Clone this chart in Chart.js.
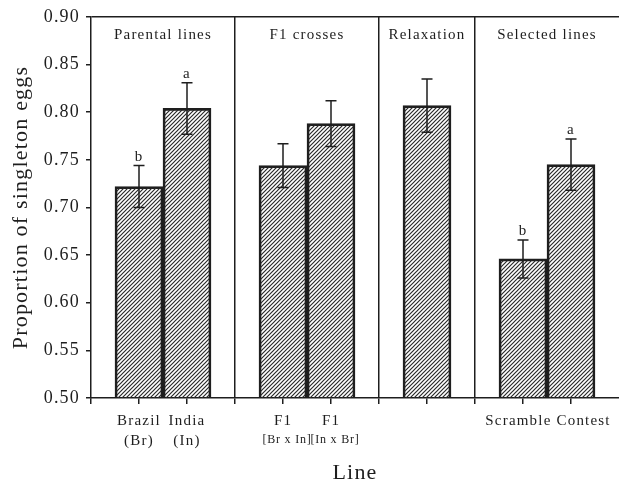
<!DOCTYPE html>
<html><head><meta charset="utf-8">
<script src="https://cdn.jsdelivr.net/npm/chart.js@4"></script>
<style>html,body{margin:0;padding:0;background:#fff}#wrap{width:619px;height:484px}</style>
</head><body><div id="wrap"><canvas id="c" width="619" height="484"></canvas></div>
<script>
// ---- data ----
const categories = ['', ['Brazil','(Br)'], ['India','(In)'], '', 'F1', 'F1', '', '', '', 'Scramble', 'Contest', ''];
const subLabels  = [null, null, null, null, '[Br x In]', '[In x Br]', null, null, null, null, null, null];
const values     = [null, 0.722, 0.804, null, 0.744, 0.788, null, 0.807, null, 0.646, 0.745, null];
const errors     = [null, 0.022, 0.027, null, 0.023, 0.024, null, 0.028, null, 0.020, 0.027, null];
const letters    = [null, 'b', 'a', null, null, null, null, null, null, 'b', 'a', null];
const groupNames = ['Parental lines', 'F1 crosses', 'Relaxation', 'Selected lines'];
const groupBounds = [[0,3],[3,6],[6,8],[8,11]];
const dividers   = [3, 6, 8];
const jointPair  = [9, 10];   // labels written as one line under this pair
const yMin = 0.50, yMax = 0.90, yStep = 0.05;

const FONT = '"Liberation Serif", "Times New Roman", serif';
const INK = '#1e1e1e';

const canvas = document.getElementById('c');
const mainCtx = canvas.getContext('2d');
function hatch(){
  const p = document.createElement('canvas'); p.width = 4; p.height = 4;
  const g = p.getContext('2d');
  g.strokeStyle = '#2a2a2a'; g.lineWidth = 1.2;
  g.beginPath();
  g.moveTo(0,4); g.lineTo(4,0);
  g.moveTo(-1,1); g.lineTo(1,-1);
  g.moveTo(3,5); g.lineTo(5,3);
  g.stroke();
  return mainCtx.createPattern(p, 'repeat');
}

const spacingPlugin = {
  id: 'spacing',
  beforeDraw(chart){ chart.ctx.letterSpacing = '1.2px'; }
};

const annotPlugin = {
  id: 'annot',
  afterDatasetsDraw(chart){
    const ctx = chart.ctx, ys = chart.scales.y, xs = chart.scales.x;
    ctx.save();
    ctx.strokeStyle = INK; ctx.fillStyle = INK; ctx.lineWidth = 1.5;
    values.forEach((v, i) => {
      if (v == null) return;
      const x = xs.getPixelForValue(i);
      const t = ys.getPixelForValue(v + errors[i]);
      const b = ys.getPixelForValue(v - errors[i]);
      ctx.beginPath();
      ctx.moveTo(x, t); ctx.lineTo(x, b);
      ctx.moveTo(x - 5.5, t); ctx.lineTo(x + 5.5, t);
      ctx.moveTo(x - 5.5, b); ctx.lineTo(x + 5.5, b);
      ctx.stroke();
      if (letters[i]) {
        ctx.font = '15px ' + FONT;
        ctx.textAlign = 'center'; ctx.textBaseline = 'alphabetic';
        ctx.fillText(letters[i], x, t - 5);
      }
    });
    ctx.font = '15px ' + FONT;
    ctx.textAlign = 'center'; ctx.textBaseline = 'alphabetic';
    groupNames.forEach((n, k) => {
      const a = xs.getPixelForValue(groupBounds[k][0]);
      const b = xs.getPixelForValue(groupBounds[k][1]);
      ctx.fillText(n, (a + b) / 2, chart.chartArea.top + 22);
    });
    // joint tick label (one line across the pair)
    const jx = (xs.getPixelForValue(jointPair[0]) + xs.getPixelForValue(jointPair[1])) / 2;
    ctx.fillText(categories[jointPair[0]] + ' ' + categories[jointPair[1]], jx + 1, chart.chartArea.bottom + 26.5);
    ctx.font = '12px ' + FONT;
    ctx.letterSpacing = '0.8px';
    subLabels.forEach((s, i) => {
      if (!s) return;
      ctx.fillText(s, xs.getPixelForValue(i) + 4, chart.chartArea.bottom + 45);
    });
    ctx.restore();
  }
};

new Chart(canvas, {
  type: 'bar',
  data: {
    labels: categories,
    datasets: [{
      data: values,
      backgroundColor: hatch(),
      borderColor: INK,
      borderWidth: 2,
      borderSkipped: false,
      categoryPercentage: 1,
      barPercentage: 1
    }]
  },
  options: {
    responsive: false,
    animation: false,
    devicePixelRatio: 1,
    layout: { padding: { top: 17, right: 0, left: 0, bottom: 0 } },
    plugins: { legend: { display: false }, tooltip: { enabled: false } },
    scales: {
      x: {
        type: 'category',
        offset: false,
        grid: {
          offset: false,
          color: c => dividers.includes(c.index) ? INK : 'rgba(0,0,0,0)',
          tickColor: c => (c.index >= 0 && c.index <= 10) ? INK : 'rgba(0,0,0,0)',
          tickLength: 6,
          lineWidth: 1.5
        },
        border: { color: INK, width: 1.5 },
        ticks: {
          autoSkip: false, maxRotation: 0, minRotation: 0,
          color: INK, padding: 7,
          font: { family: FONT, size: 15, lineHeight: 1.33 },
          callback: function(v, i){ return jointPair.includes(i) ? '' : this.getLabelForValue(v); }
        },
        title: {
          display: true, text: 'Line', color: INK,
          font: { family: FONT, size: 22, lineHeight: 1 },
          padding: { top: 0, bottom: 0 }
        },
        afterFit(s){ s.height = 86; s.paddingLeft = 0; s.paddingRight = 0; }
      },
      y: {
        min: yMin, max: yMax,
        grid: {
          color: c => (c.tick && Math.abs(c.tick.value - yMax) < 1e-6) ? INK : 'rgba(0,0,0,0)',
          tickColor: INK, tickLength: 5, lineWidth: 1.5
        },
        border: { color: INK, width: 1.5 },
        ticks: {
          stepSize: yStep, color: INK, padding: 6,
          font: { family: FONT, size: 18 },
          callback: v => v.toFixed(2)
        },
        title: {
          display: true, text: 'Proportion of singleton eggs', color: INK,
          font: { family: FONT, size: 22, lineHeight: 1.2 },
          padding: { top: 8, bottom: 0 }
        },
        afterFit(s){ s.width = 91; s.paddingTop = 0; s.paddingBottom = 0; }
      }
    }
  },
  plugins: [spacingPlugin, annotPlugin]
});
</script>
</body></html>
